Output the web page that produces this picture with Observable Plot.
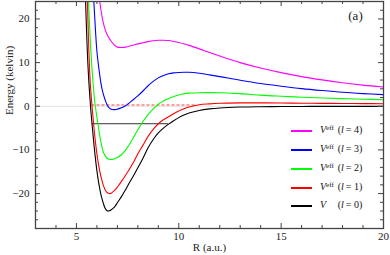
<!DOCTYPE html>
<html><head><meta charset="utf-8">
<script src="https://cdn.jsdelivr.net/npm/d3@7"></script>
<script src="https://cdn.jsdelivr.net/npm/@observablehq/plot@0.6"></script>
<style>
body{margin:0;background:#fff;}
#wrap{position:relative;width:390px;height:255px;font-family:"Liberation Serif","Times New Roman",serif;}
#legend{position:absolute;left:291px;top:0;font-size:10px;color:#111;}
.row{position:absolute;left:0;height:18px;width:90px;white-space:nowrap;}
.sw{position:absolute;left:0;top:9px;width:21px;height:1.5px;}
.txt{position:absolute;left:29px;top:0;line-height:18px;}
.v{display:inline-block;width:17.7px;}
.v sup{font-size:7px;position:relative;top:-3.5px;vertical-align:baseline;line-height:0;}
.l{margin-right:2px;}
</style>
</head><body>
<div id="wrap"></div>
<script>
// R grid (a.u.)
const R = [5.4,5.45,5.5,5.55,5.6,5.65,5.7,5.75,5.8,5.85,5.9,6.0,6.1,6.2,6.3,6.4,6.5,6.6,6.7,6.8,6.9,7.0,7.2,7.4,7.6,7.8,8.0,8.25,8.5,8.75,9.0,9.25,9.5,9.75,10,10.25,10.5,11,11.5,12,13,14,15,16,17,18,19,20];
// V (l=0)
const V0 = [30,23.5,16.5,10.5,6.0,2.5,-0.8,-3.5,-6.0,-8.5,-10.8,-14.8,-17.9,-20.3,-22.0,-23.35,-23.95,-23.95,-23.7,-23.35,-22.8,-22.1,-20.7,-19.1,-17.4,-15.8,-14.1,-11.9,-9.5,-7.6,-6.1,-5.0,-4.1,-3.3,-2.6,-2.0,-1.55,-0.95,-0.6,-0.38,-0.18,-0.1,-0.06,-0.04,-0.03,-0.02,-0.015,-0.01];
// Veff (l=1)
const V1 = [null,null,29,21.5,13.5,7.5,3.6,0.7,-2.0,-4.6,-7.0,-10.9,-13.9,-16.2,-17.9,-19.1,-19.75,-20.0,-19.9,-19.55,-19.1,-18.5,-17.2,-15.8,-14.3,-12.7,-10.9,-8.9,-6.9,-5.3,-4.0,-3.1,-2.4,-1.7,-1.1,-0.55,-0.15,0.35,0.55,0.68,0.78,0.78,0.74,0.7,0.67,0.64,0.61,0.58];
// Veff (l=2)
const V2 = [null,null,null,30,23,17.5,13.0,9.3,6.0,3.3,0.8,-2.5,-5.6,-8.3,-10.3,-11.3,-11.9,-12.15,-12.2,-12.13,-11.98,-11.75,-11.1,-10.05,-8.65,-7.05,-5.4,-3.5,-1.9,-0.6,0.45,1.2,1.75,2.25,2.6,2.85,3.0,3.1,3.12,3.08,2.9,2.55,2.3,2.08,1.9,1.75,1.62,1.5];
// Veff (l=3)
const V3 = [null,null,null,null,null,null,null,null,28,24,19.8,12.6,8.5,5.2,3.0,1.5,0.3,-0.35,-0.68,-0.76,-0.76,-0.65,-0.35,0.1,0.85,1.6,2.4,3.5,4.7,5.7,6.5,7.05,7.45,7.65,7.75,7.8,7.78,7.55,7.2,6.8,5.95,5.2,4.6,4.05,3.6,3.2,2.9,2.65];
// Veff (l=4)
const V4 = [null,null,null,null,null,null,null,null,null,null,null,31.5,25.5,22.0,19.4,17.6,16.4,15.6,14.9,14.3,13.85,13.55,13.45,13.55,13.8,14.05,14.3,14.55,14.8,15.0,15.12,15.12,15.05,14.85,14.6,14.3,13.95,13.15,12.3,11.5,10.0,8.75,7.7,6.8,6.05,5.4,4.85,4.4];

const seriesNames = ["l4","l3","l2","l1","l0"];
const seriesValues = [V4,V3,V2,V1,V0];
const seriesColors = ["#ff00ff","#0000ff","#00ff00","#ff0000","#000000"];
const legendL = ["4","3","2","1","0"];

// reference levels
const zeroLevel = [0];
const dashLevel = [{y:0.3, x1:5.76, x2:10.8}];
const boundLevel = [{y:-4, x1:5.77, x2:9.5}];

const xMajor = [5,10,15,20];
const xMinor = [4,6,7,8,9,11,12,13,14,16,17,18,19];
const yMajor = [-20,-10,0,10,20];
const yMinor = [-26,-24,-22,-18,-16,-14,-12,-8,-6,-4,-2,2,4,6,8,12,14,16,18,22];

const W = 390, H = 255, mL = 35, mR = 7, mT = 1, mB = 27;
const fw = W - mL - mR, fh = H - mT - mB;
const tickC = "#444";
const serif = '"Liberation Serif", "Times New Roman", serif';

const lineMarks = seriesNames.map((n, k) => {
  const rows = R.map((r, i) => ({R: r, E: seriesValues[k][i]})).filter(d => d.E != null);
  return Plot.line(rows, {x: "R", y: "E", stroke: seriesColors[k], strokeWidth: 1.1, clip: true, curve: "catmull-rom"});
});

const chart = Plot.plot({
  width: W, height: H,
  marginLeft: mL, marginRight: mR, marginTop: mT, marginBottom: mB,
  style: {fontFamily: serif, fontSize: "11px", background: "#fff", color: "#222"},
  x: {domain: [3, 20]},
  y: {domain: [-28, 24]},
  marks: [
    Plot.ruleY(zeroLevel, {stroke: "#e2e2e2", strokeWidth: 1}),
    Plot.ruleY(dashLevel, {y: "y", x1: "x1", x2: "x2", stroke: "#ff7f7f", strokeWidth: 1.5, strokeDasharray: "3,2"}),
    Plot.ruleY(boundLevel, {y: "y", x1: "x1", x2: "x2", stroke: "#333", strokeWidth: 1}),
    ...lineMarks,
    // inward ticks
    Plot.ruleX(xMajor, {x: d => d, insetTop: fh - 5, stroke: tickC}),
    Plot.ruleX(xMinor, {x: d => d, insetTop: fh - 3, stroke: tickC}),
    Plot.ruleX(xMajor, {x: d => d, insetBottom: fh - 5, stroke: tickC}),
    Plot.ruleX(xMinor, {x: d => d, insetBottom: fh - 3, stroke: tickC}),
    Plot.ruleY(yMajor, {y: d => d, insetRight: fw - 5, stroke: tickC}),
    Plot.ruleY(yMinor, {y: d => d, insetRight: fw - 3, stroke: tickC}),
    Plot.ruleY(yMajor, {y: d => d, insetLeft: fw - 5, stroke: tickC}),
    Plot.ruleY(yMinor, {y: d => d, insetLeft: fw - 3, stroke: tickC}),
    Plot.frame({stroke: "#444", strokeWidth: 1.3}),
    Plot.axisX(xMajor, {tickSize: 0, tickPadding: 4, label: null, fontSize: 11}),
    Plot.axisY(yMajor, {tickSize: 0, tickPadding: 6, label: null, fontSize: 11}),
    Plot.text(["R (a.u.)"], {frameAnchor: "bottom", dy: 19, fontSize: 11, lineAnchor: "middle"}),
    Plot.text(["Energy (kelvin)"], {frameAnchor: "left", dx: -26, rotate: -90, fontSize: 11, lineAnchor: "middle"}),
    Plot.text(["(a)"], {frameAnchor: "top-right", dx: -28, dy: 14, fontSize: 13, textAnchor: "middle", lineAnchor: "middle"})
  ]
});

const wrap = document.getElementById("wrap");
wrap.appendChild(chart);
const leg = document.createElement("div");
leg.id = "legend";
const rowTops = [121, 140, 159, 178, 196];
leg.innerHTML = seriesNames.map((n, k) => {
  const head = k < 4 ? '<i>V</i><sup>eff</sup>' : '<i>V</i>';
  return `<div class="row" style="top:${rowTops[k]}px"><span class="sw" style="background:${seriesColors[k]}"></span><span class="txt"><span class="v">${head}</span>(<i class="l">l</i>= ${legendL[k]})</span></div>`;
}).join("");
wrap.appendChild(leg);
</script>
</body></html>
